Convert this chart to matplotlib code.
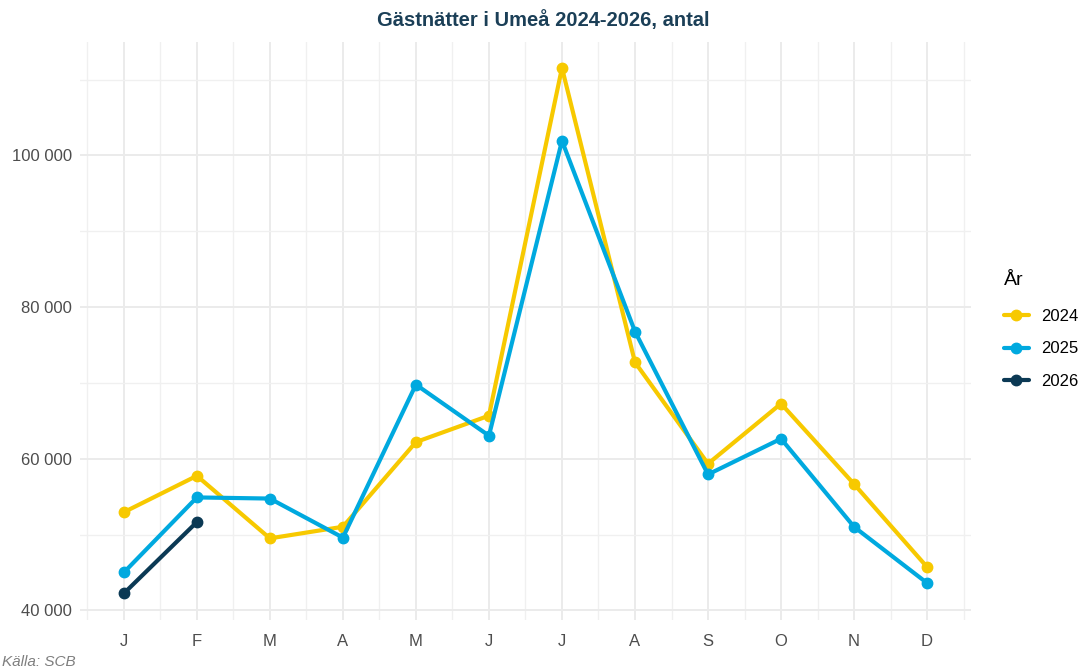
import numpy as np
import matplotlib.pyplot as plt
from matplotlib.ticker import FuncFormatter, MultipleLocator

# Gästnätter per månad, Umeå
manader = ['J', 'F', 'M', 'A', 'M', 'J', 'J', 'A', 'S', 'O', 'N', 'D']
ar_2024 = [52950, 57750, 49500, 51030, 62200, 65680, 111550, 72720, 59340, 67270, 56660, 45720]
ar_2025 = [45000, 54900, 54750, 49600, 69780, 63040, 101940, 76780, 57930, 62640, 51020, 43610]
ar_2026 = [42240, 51650]

farger = {'2024': '#F7C900', '2025': '#00A9DF', '2026': '#0B3954'}

plt.rcParams['font.family'] = ['Liberation Sans', 'DejaVu Sans']

fig = plt.figure(figsize=(10.86, 6.72), dpi=100)
ax = fig.add_axes([0.0737, 0.0774, 0.8203, 0.8601])

x = np.arange(len(manader))
for namn, serie in [('2024', ar_2024), ('2025', ar_2025), ('2026', ar_2026)]:
    ax.plot(x[:len(serie)], serie, color=farger[namn], linewidth=3, marker='o',
            markersize=7.5, label=namn, solid_capstyle='round')

ax.set_xlim(-0.6, 11.6)
ax.set_ylim(38735, 114965)
ax.set_xticks(x)
ax.set_xticklabels(manader)
ax.xaxis.set_minor_locator(MultipleLocator(1, offset=0.5))
ax.yaxis.set_major_locator(MultipleLocator(20000))
ax.yaxis.set_minor_locator(MultipleLocator(10000))
ax.yaxis.set_major_formatter(FuncFormatter(lambda v, p: f'{int(v):,}'.replace(',', ' ')))

ax.grid(which='major', color='#EBEBEB', linewidth=1.4)
ax.grid(which='minor', color='#F0F0F0', linewidth=1.0)
ax.set_axisbelow(True)
for s in ax.spines.values():
    s.set_visible(False)
ax.tick_params(which='both', length=0, labelsize=12, labelcolor='#4D4D4D')
ax.tick_params(axis='x', pad=10)
ax.tick_params(axis='y', pad=6)

fig.text(0.5, 0.970, 'Gästnätter i Umeå 2024-2026, antal', ha='center', va='center',
         fontsize=14.5, fontweight='bold', color='#1B3F57')
fig.text(0.002, 0.015, 'Källa: SCB', ha='left', va='center', fontsize=11,
         style='italic', color='#7F7F7F')

leg = fig.legend(*ax.get_legend_handles_labels(), title='År', loc='center left',
                 bbox_to_anchor=(0.911, 0.508), frameon=False,
                 fontsize=12, title_fontsize=14, handlelength=1.45, labelspacing=1.05,
                 handletextpad=0.75, alignment='left')
leg._legend_box.sep = 14

plt.savefig('out.png', dpi=100)
